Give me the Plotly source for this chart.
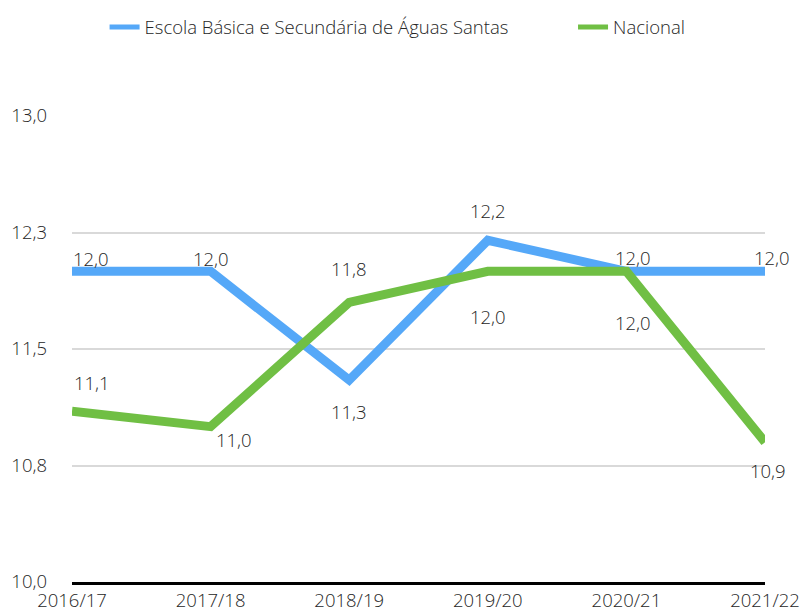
import plotly.graph_objects as go

years = ["2016/17", "2017/18", "2018/19", "2019/20", "2020/21", "2021/22"]
escola = [12.0, 12.0, 11.3, 12.2, 12.0, 12.0]
nacional = [11.1, 11.0, 11.8, 12.0, 12.0, 10.9]
y_tickvals = [10.0, 10.75, 11.5, 12.25, 13.0]
y_ticktext = ["10,0", "10,8", "11,5", "12,3", "13,0"]
series_names = ["Escola Básica e Secundária de Águas Santas", "Nacional"]

# label offsets (style only): (xshift, yshift) in px
escola_off = [(19, 13), (0, 13), (0, -31), (0, 30), (7, 14), (7, 14)]
nacional_off = [(20, 29), (23, -13), (0, 34), (0, -45), (7, -51), (3, -28)]

BLUE = "#55A8F8"
GREEN = "#70BF44"
FONT = "Open Sans"
W = 300
TXT = "#262626"
FS = 18.5

fig = go.Figure()
fig.add_trace(go.Scatter(x=years, y=escola, mode="lines", name=series_names[0],
                         line=dict(color=BLUE, width=9), showlegend=False))
fig.add_trace(go.Scatter(x=years, y=nacional, mode="lines", name=series_names[1],
                         line=dict(color=GREEN, width=9), showlegend=False))
# legend entries with thinner line swatches
fig.add_trace(go.Scatter(x=[None], y=[None], mode="lines", name=series_names[0],
                         line=dict(color=BLUE, width=5), legend="legend", hoverinfo="skip"))
fig.add_trace(go.Scatter(x=[None], y=[None], mode="lines", name=series_names[1],
                         line=dict(color=GREEN, width=5), legend="legend2", hoverinfo="skip"))

def fmt(v):
    return f"{v:.1f}".replace(".", ",")

for vals, offs in ((escola, escola_off), (nacional, nacional_off)):
    for xv, yv, (dx, dy) in zip(years, vals, offs):
        fig.add_annotation(x=xv, y=yv, text=fmt(yv), showarrow=False, xshift=dx, yshift=dy,
                           font=dict(family=FONT, size=FS, color=TXT, weight=W))

lfont = dict(family=FONT, size=FS, color=TXT, weight=W)
fig.update_layout(
    width=802, height=613,
    margin=dict(l=72, r=37, t=116, b=31, autoexpand=False),
    paper_bgcolor="white", plot_bgcolor="white",
    font=dict(family=FONT, size=FS, color=TXT, weight=W),
    showlegend=True,
    legend=dict(orientation="h", x=0.047, xanchor="left", y=1.19, yanchor="middle", font=lfont,
                itemwidth=30),
    legend2=dict(orientation="h", x=0.723, xanchor="left", y=1.19, yanchor="middle", font=lfont,
                 itemwidth=30),
    xaxis=dict(range=[0, 5], showgrid=False, showline=True, linecolor="black", linewidth=3,
               ticks="", tickfont=dict(family=FONT, size=FS, color=TXT, weight=W), zeroline=False,
               automargin=False),
    yaxis=dict(range=[10.0, 13.0], tickvals=y_tickvals, ticktext=y_ticktext, showgrid=True,
               gridcolor="#D9D9D9", gridwidth=1.5, zeroline=False, showline=False, ticks="",
               ticklabelstandoff=24, automargin=False,
               tickfont=dict(family=FONT, size=FS, color=TXT, weight=W)),
)

fig.write_html("out.html", config={"displayModeBar": False},
               post_script="document.body.style.margin='0';document.body.style.overflow='hidden';")
